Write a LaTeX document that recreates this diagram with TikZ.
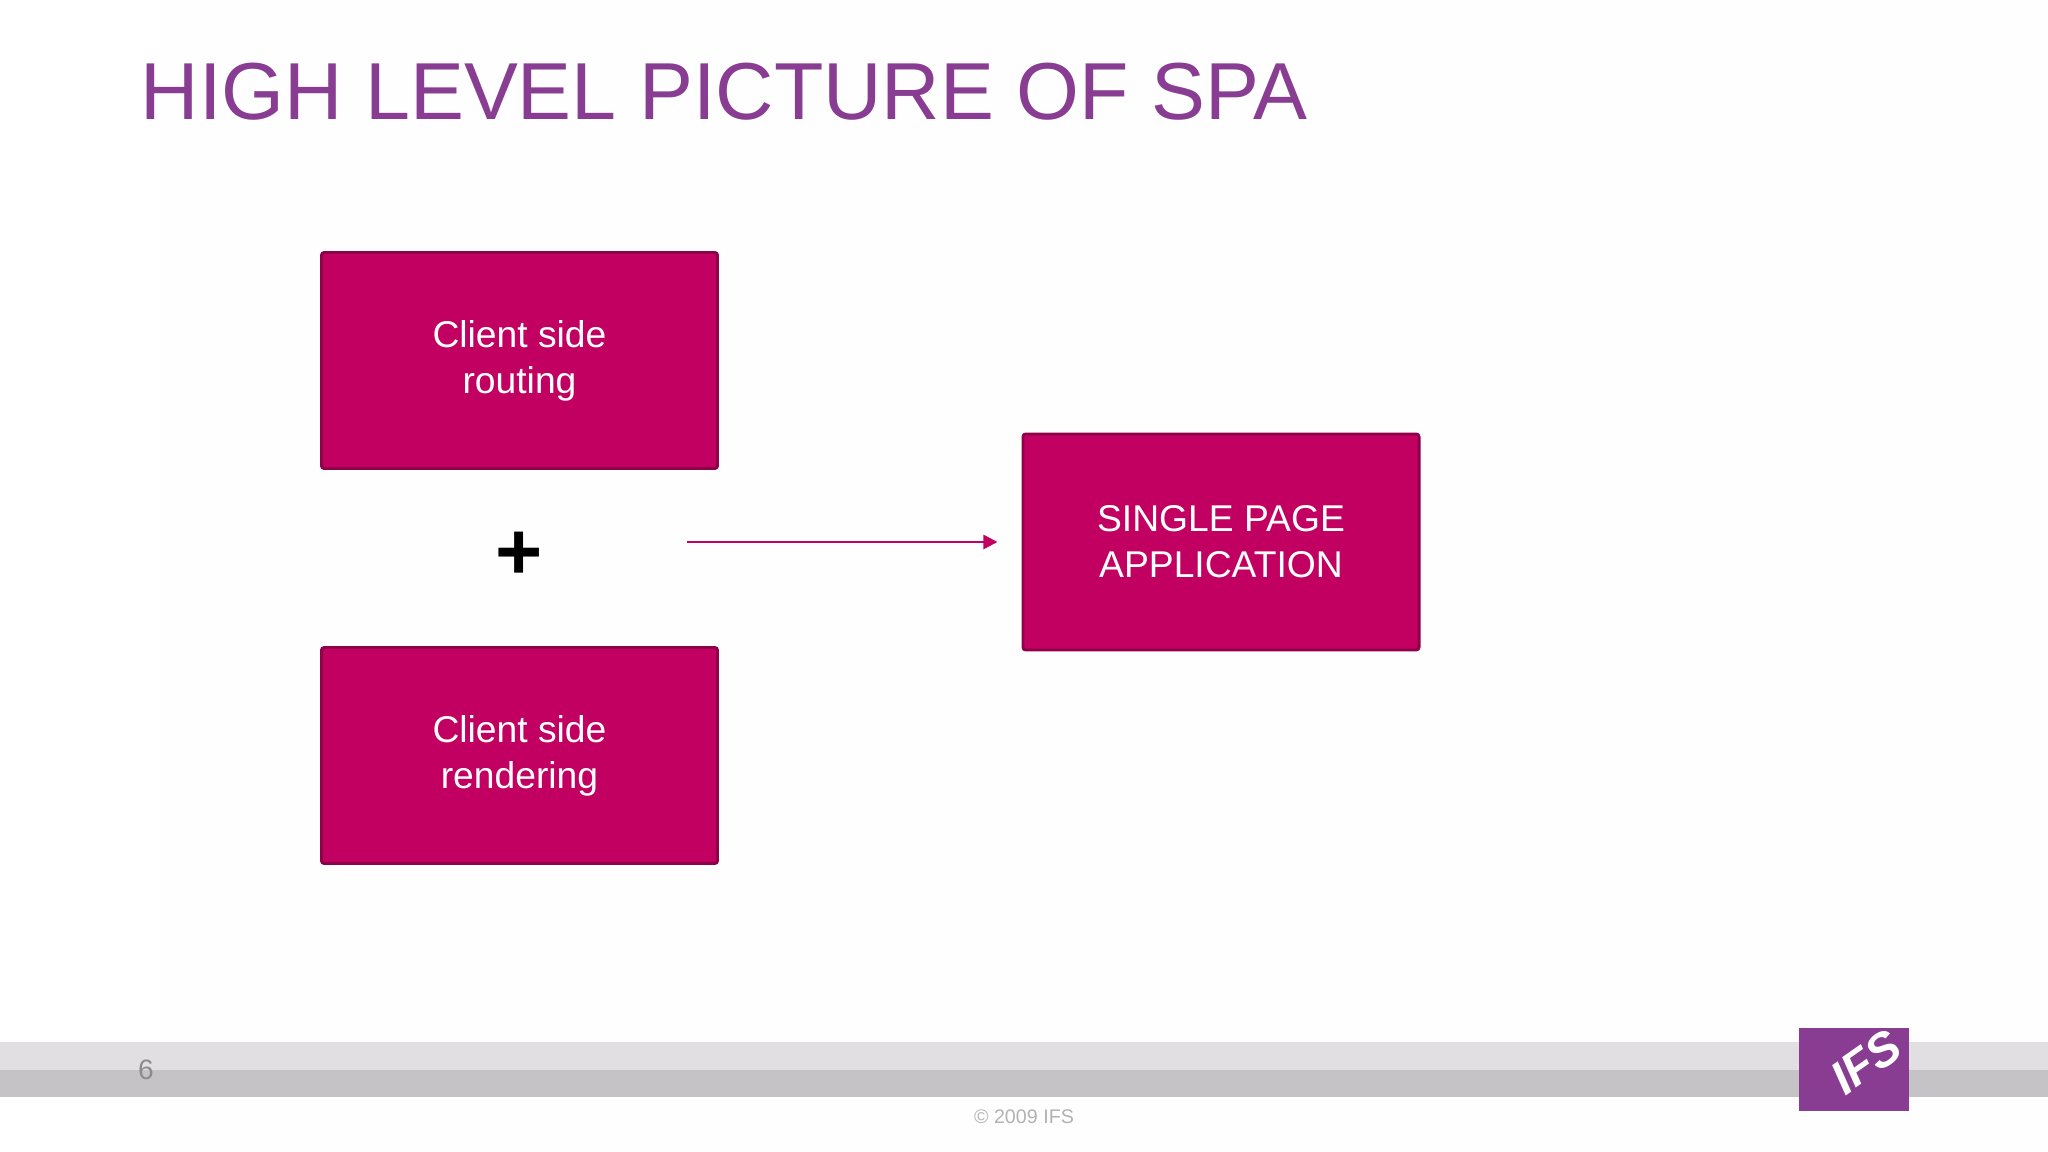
\documentclass[tikz,border=0pt]{standalone}
\usepackage{fontspec}
\setmainfont{Liberation Sans}
\usetikzlibrary{arrows.meta}
\definecolor{bx}{RGB}{193,0,98}
\definecolor{bd}{RGB}{142,0,72}
\definecolor{pu}{RGB}{136,60,146}
\definecolor{b1}{RGB}{225,223,226}
\definecolor{b2}{RGB}{197,195,198}

\begin{document}
\begin{tikzpicture}[
    a/.style={
        line width=0.7pt,
        color=bx,
    },
    l/.style={
        a,-{Triangle[length=4pt,width=4pt]}
    },
    m/.style={
        fill=bx, draw=bd, line width=0.85pt,
        rounded corners=0.8pt, minimum width=3.96cm, minimum height=2.16cm,
        align=center, text=white, inner sep=0pt,
        font=\fontsize{10.6}{13.1}\selectfont
    },
    e/.style={
        inner sep=0pt, color=gray
    }
]

    \useasboundingbox (0, 0) rectangle (20.48, -11.52);
    \fill [color=white!60!b1!6!white] (1.6, 0) rectangle (20.48, -11.52);
    \fill [color=b1] (0, -10.42) rectangle (20.48, -10.70);
    \fill [color=b2] (0, -10.70) rectangle (20.48, -10.97);

    \node [anchor=base west,inner sep=0pt,color=pu,font=\fontsize{23}{23}\selectfont] (title) at (1.40, -1.20) {HIGH LEVEL PICTURE OF SPA};

    \node [m] (routing) at ( 5.195, -3.605) {Client side\\routing};
    \node [m] (rendering) at ( 5.195, -7.555) {Client side\\rendering};
    \node [m] (spa) at (12.21, -5.42) {SINGLE PAGE\\APPLICATION};
    \node [inner sep=0pt,font=\fontsize{23}{23}\selectfont\bfseries] (plus) at (5.195, -5.56) {+};

    \coordinate (start) at (6.87, -5.42);
    \draw (start) -- (spa) [l,shorten >=0.24cm];

    \node [e,font=\fontsize{8}{8}\selectfont,color=black!45] (page) at (1.46, -10.70) {6};
    \node [e,font=\fontsize{5.6}{6}\selectfont,color=black!30] (copy) at (10.24, -11.17) {© 2009 IFS};

    % logo
    \node [fill=pu,minimum width=1.10cm,minimum height=0.83cm,inner sep=0pt] (logo) at (18.54, -10.695) {};
    \begin{scope}
        \clip (logo.south west) rectangle (logo.north east);
        \node [rotate=35,inner sep=0pt,color=white,font=\fontsize{13.5}{14}\selectfont\bfseries\itshape] (ifs) at (18.66, -10.62) {IFS};
    \end{scope}

\end{tikzpicture}
\end{document}
